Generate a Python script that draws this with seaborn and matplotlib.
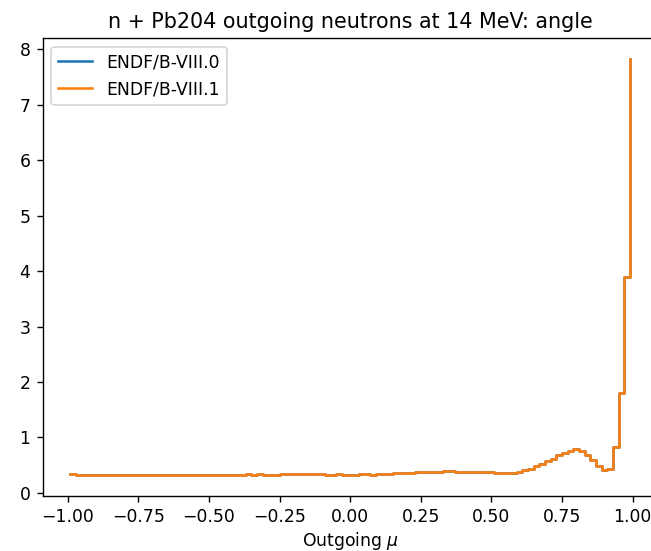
import numpy as np
import pandas as pd
import seaborn as sns
import matplotlib.pyplot as plt

# outgoing mu grid (bin centres, 100 bins on [-1, 1])
mu = np.linspace(-0.99, 0.99, 100)

# angular distribution, one value per bin
pdf_viii0 = [
    0.35, 0.32, 0.32, 0.32, 0.32, 0.32, 0.32, 0.32, 0.32, 0.32,
    0.32, 0.32, 0.32, 0.32, 0.32, 0.32, 0.32, 0.32, 0.32, 0.32,
    0.32, 0.32, 0.32, 0.32, 0.32, 0.32, 0.32, 0.32, 0.32, 0.32,
    0.32, 0.34, 0.32, 0.34, 0.32, 0.32, 0.32, 0.35, 0.35, 0.35,
    0.35, 0.35, 0.35, 0.35, 0.35, 0.32, 0.32, 0.34, 0.32, 0.32,
    0.32, 0.34, 0.34, 0.32, 0.34, 0.34, 0.34, 0.36, 0.36, 0.36,
    0.36, 0.38, 0.38, 0.38, 0.38, 0.38, 0.40, 0.40, 0.38, 0.38,
    0.38, 0.38, 0.38, 0.38, 0.38, 0.36, 0.36, 0.36, 0.36, 0.38,
    0.41, 0.44, 0.48, 0.53, 0.57, 0.62, 0.68, 0.72, 0.76, 0.79,
    0.76, 0.69, 0.60, 0.49, 0.41, 0.44, 0.83, 1.81, 3.90, 7.83,
]
# VIII.1 is drawn on top of VIII.0 and is the same curve
pdf_viii1 = list(pdf_viii0)

labels = ['ENDF/B-VIII.0', 'ENDF/B-VIII.1']

df = pd.DataFrame({'mu': mu, 'v0': pdf_viii0, 'v1': pdf_viii1})

dpi = 124
fig = plt.figure(figsize=(651 / dpi, 551 / dpi), dpi=dpi)
ax = fig.add_axes([42.5 / 651, 55 / 551, 615.3 / 651, 458 / 551])

sns.lineplot(data=df, x='mu', y='v0', drawstyle='steps-post', color='C0',
             label=labels[0], ax=ax)
sns.lineplot(data=df, x='mu', y='v1', drawstyle='steps-post', color='C1',
             label=labels[1], ax=ax)

ax.set_title('n + Pb204 outgoing neutrons at 14 MeV: angle')
ax.set_xlabel(r'Outgoing $\mu$', labelpad=2)
ax.set_ylabel('')
ax.legend(loc='upper left')

fig.savefig('out.png', dpi=dpi)
